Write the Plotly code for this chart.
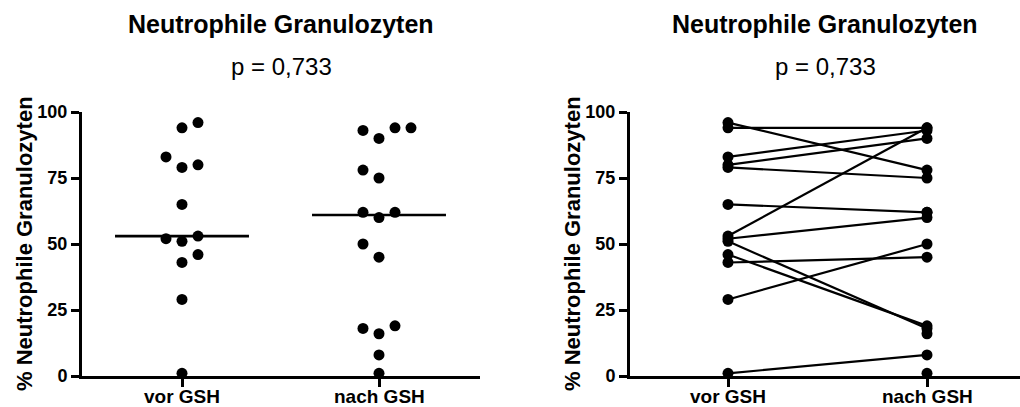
import numpy as np
import plotly.graph_objects as go

# Neutrophil share (%) per patient before and after GSH; None = no value before GSH
groups = ["vor GSH", "nach GSH"]
vor_gsh = [96, 94, 83, 80, 79, 65, 53, 52, 51, 46, 43, 29, 1, None, None, None]
nach_gsh = [78, 94, 93, 90, 75, 62, 94, 60, 18, 19, 45, 50, 8, 62, 16, 1]
y_ticks = [0, 25, 50, 75, 100]
panel_title = "Neutrophile Granulozyten"
p_label = "p = 0,733"
y_label = "% Neutrophile Granulozyten"

W, H = 1020, 407
FONT = "Liberation Sans, Arial, sans-serif"
BLACK = "#000000"

# pixel frame of the two panels
LEFT_X0, LEFT_X1 = 82, 480
RIGHT_X0, RIGHT_X1 = 630, 1020
PLOT_TOP, PLOT_BOTTOM = 112, 376
LEFT_STEP = 197      # px between the two groups (left panel)
RIGHT_STEP = 199     # px between the two groups (right panel)
LEFT_FIRST = 182     # px of first group, left panel
RIGHT_FIRST = 728    # px of first group, right panel
DOT_PX = 16          # horizontal spacing of side-by-side dots
MEDIAN_HALF = 0.34   # half width of the median bar (x units)


def dot_slots(values, first_side, gap=6.5):
    """Column-scatter arrangement: each dot goes to the nearest free slot,
    trying slots in a zig-zag 0, s, -s, -2s, 2s, 3s, -3s ..."""
    order = sorted(range(len(values)), key=lambda i: values[i])
    candidates, side = [0], first_side
    for k in range(1, 6):
        candidates += [side * k, -side * k]
        side = -side
    placed, slots = [], [0] * len(values)
    for i in order:
        v = values[i]
        for s in candidates:
            if all(not (ps == s and abs(pv - v) < gap) for pv, ps in placed):
                break
        slots[i] = s
        placed.append((v, s))
    return slots


fig = go.Figure()

# ---- left panel: column scatter with median -------------------------------
columns = [[v for v in vor_gsh if v is not None], [v for v in nach_gsh if v is not None]]
sides = [1, -1]
for gi, vals in enumerate(columns):
    slots = dot_slots(vals, sides[gi])
    xs = [gi + s * DOT_PX / LEFT_STEP for s in slots]
    fig.add_trace(go.Scatter(
        x=xs, y=vals, mode="markers", xaxis="x", yaxis="y",
        marker=dict(size=11, color=BLACK), cliponaxis=False, showlegend=False,
        hoverinfo="skip"))
    med = float(np.median(vals))
    fig.add_trace(go.Scatter(
        x=[gi - MEDIAN_HALF, gi + MEDIAN_HALF], y=[med, med], mode="lines",
        xaxis="x", yaxis="y", line=dict(color=BLACK, width=2.6),
        showlegend=False, hoverinfo="skip"))

# ---- right panel: before/after lines --------------------------------------
lx, ly = [], []
for a, b in zip(vor_gsh, nach_gsh):
    if a is not None and b is not None:
        lx += [0, 1, None]
        ly += [a, b, None]
fig.add_trace(go.Scatter(
    x=lx, y=ly, mode="lines", xaxis="x2", yaxis="y2",
    line=dict(color=BLACK, width=2.2), showlegend=False, hoverinfo="skip"))
px_, py_ = [], []
for gi, vals in enumerate([vor_gsh, nach_gsh]):
    for v in vals:
        if v is not None:
            px_.append(gi)
            py_.append(v)
fig.add_trace(go.Scatter(
    x=px_, y=py_, mode="markers", xaxis="x2", yaxis="y2",
    marker=dict(size=11, color=BLACK), cliponaxis=False, showlegend=False,
    hoverinfo="skip"))

# ---- axes ------------------------------------------------------------------
common_axis = dict(
    showline=True, linewidth=3, linecolor=BLACK, ticks="outside", ticklen=8,
    tickwidth=3, tickcolor=BLACK, showgrid=False, zeroline=False,
    fixedrange=True, automargin=False)


def xaxis(x0, x1, first, step, anchor):
    return dict(
        common_axis, domain=[x0 / W, x1 / W], anchor=anchor,
        range=[(x0 - first) / step, (x1 - first) / step],
        tickmode="array", tickvals=[0, 1], showticklabels=False)


def yaxis(anchor):
    return dict(
        common_axis, domain=[(H - PLOT_BOTTOM) / H, (H - PLOT_TOP) / H],
        anchor=anchor, range=[0, 100], tickmode="array", tickvals=y_ticks,
        tickfont=dict(family=FONT, size=18, color=BLACK, weight="bold"))


annotations = []
panels = [(LEFT_X0, LEFT_X1, "x"), (RIGHT_X0, RIGHT_X1, "x2")]
for (x0, x1, xref) in panels:
    cx = (x0 + x1) / 2 / W
    annotations.append(dict(
        text=panel_title, x=cx, y=1 - 24 / H, xref="paper", yref="paper",
        xanchor="center", yanchor="middle", showarrow=False,
        font=dict(family=FONT, size=25, color=BLACK, weight="bold")))
    annotations.append(dict(
        text=p_label, x=cx, y=1 - 66 / H, xref="paper", yref="paper",
        xanchor="center", yanchor="middle", showarrow=False,
        font=dict(family=FONT, size=24, color=BLACK)))
    annotations.append(dict(
        text=y_label, x=(x0 - 57) / W, y=1 - 244 / H, xref="paper", yref="paper",
        xanchor="center", yanchor="middle", showarrow=False, textangle=-90,
        font=dict(family=FONT, size=22, color=BLACK, weight="bold")))
    # category labels under the x axis
    for gi, name in enumerate(groups):
        annotations.append(dict(
            text=name, x=gi, y=1 - 396 / H, xref=xref, yref="paper",
            xanchor="center", yanchor="middle", showarrow=False,
            font=dict(family=FONT, size=19, color=BLACK, weight="bold")))

fig.update_layout(
    width=W, height=H, margin=dict(l=0, r=0, t=0, b=0, autoexpand=False),
    paper_bgcolor="white", plot_bgcolor="white",
    xaxis=xaxis(LEFT_X0, LEFT_X1, LEFT_FIRST, LEFT_STEP, "y"),
    yaxis=yaxis("x"),
    xaxis2=xaxis(RIGHT_X0, RIGHT_X1, RIGHT_FIRST, RIGHT_STEP, "y2"),
    yaxis2=yaxis("x2"),
    annotations=annotations,
)

fig.write_html("out.html")
